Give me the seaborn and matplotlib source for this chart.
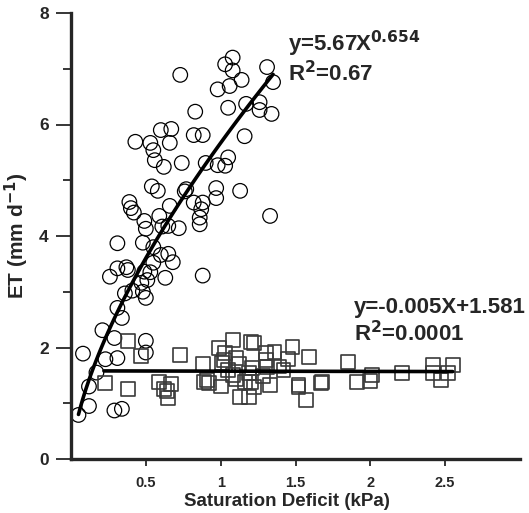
import matplotlib
matplotlib.use("Agg")
import matplotlib.pyplot as plt
import numpy as np
import pandas as pd
import seaborn as sns

# ET vs saturation deficit, two groups (circles rise with VPD, squares stay flat)
circle_vpd = [
    0.73, 1.03, 1.08, 1.08, 1.14, 1.06, 0.98, 1.31, 1.35, 0.83, 1.05, 1.17, 1.26, 1.26, 1.34,
    0.60, 0.67, 0.66, 0.43, 0.53, 0.55, 0.56, 0.62, 0.74, 0.82, 0.88, 1.16, 1.05, 1.03, 0.98,
    0.90, 0.54, 0.58, 0.77, 0.76, 0.97, 0.97, 1.13, 0.39, 0.40, 0.42, 0.66, 0.82, 0.88, 0.87,
    0.86, 0.86, 0.59, 0.49, 0.50, 0.61, 0.65, 0.72, 1.33, 0.31, 0.48, 0.55, 0.60, 0.65, 0.68,
    0.55, 0.53, 0.63, 0.37, 0.31, 0.26, 0.49, 0.51, 0.88, 0.38, 0.47, 0.41, 0.48, 0.36, 0.50,
    0.31, 0.34, 0.21, 0.29, 0.50, 0.08, 0.23, 0.31, 0.50, 0.17, 0.12, 0.12, 0.05, 0.29, 0.34,
]
circle_et = [
    6.89, 7.08, 7.20, 6.97, 6.80, 6.69, 6.63, 7.03, 6.76, 6.23, 6.30, 6.37, 6.40, 6.26, 6.19,
    5.90, 5.92, 5.67, 5.69, 5.67, 5.54, 5.36, 5.24, 5.31, 5.81, 5.81, 5.79, 5.41, 5.26, 5.27,
    5.31, 4.89, 4.81, 4.84, 4.80, 4.86, 4.68, 4.81, 4.61, 4.50, 4.42, 4.54, 4.60, 4.60, 4.48,
    4.33, 4.21, 4.36, 4.27, 4.13, 4.17, 4.18, 4.14, 4.36, 3.87, 3.88, 3.80, 3.66, 3.68, 3.53,
    3.52, 3.35, 3.25, 3.44, 3.42, 3.27, 3.36, 3.21, 3.29, 3.39, 3.16, 3.02, 3.00, 2.97, 2.89,
    2.71, 2.53, 2.31, 2.17, 2.12, 1.89, 1.79, 1.81, 1.91, 1.55, 1.30, 0.95, 0.79, 0.87, 0.90,
]

square_vpd = [
    0.38, 0.47, 0.73, 0.23, 0.38, 0.59, 0.67, 0.62, 0.64, 0.65, 0.88, 0.89, 0.92, 1.00, 0.99,
    1.03, 1.08, 1.02, 1.01, 1.10, 1.08, 1.16, 1.13, 1.19, 1.20, 1.22, 1.22, 1.19, 1.21, 1.30,
    1.36, 1.48, 1.45, 1.59, 1.30, 1.31, 1.39, 1.10, 1.20, 1.28, 1.33, 1.52, 1.52, 1.57, 1.68,
    1.67, 1.85, 1.91, 2.01, 2.00, 2.21, 2.42, 2.55, 2.42, 2.52, 2.47, 1.42, 0.91, 1.05, 1.12,
]
square_et = [
    2.12, 1.85, 1.86, 1.36, 1.26, 1.38, 1.35, 1.25, 1.22, 1.09, 1.70, 1.38, 1.37, 1.30, 1.99,
    1.90, 2.13, 1.77, 1.72, 1.81, 1.51, 1.38, 1.11, 1.12, 2.10, 2.08, 1.29, 1.54, 1.63, 1.90,
    1.92, 2.01, 1.80, 1.83, 1.78, 1.65, 1.66, 1.43, 1.38, 1.49, 1.33, 1.33, 1.29, 1.06, 1.38,
    1.37, 1.74, 1.38, 1.50, 1.40, 1.55, 1.68, 1.68, 1.54, 1.54, 1.42, 1.60, 1.41, 1.60, 1.70,
]

# fitted relations printed on the chart
power_a, power_b = 5.67, 0.654
lin_slope, lin_icept = -0.005, 1.581

x_ticks = [0.5, 1, 1.5, 2, 2.5]
x_tick_labels = ["0.5", "1", "1.5", "2", "2.5"]
y_ticks = [0, 2, 4, 6, 8]

sns.set_theme(style="ticks")
plt.rcParams["font.family"] = ["Liberation Sans", "DejaVu Sans"]
plt.rcParams["font.weight"] = "bold"
plt.rcParams["mathtext.default"] = "regular"

circles = pd.DataFrame({"vpd": circle_vpd, "et": circle_et})
squares = pd.DataFrame({"vpd": square_vpd, "et": square_et})

fig = plt.figure(figsize=(5.29, 5.13), dpi=100)
ax = fig.add_axes([71 / 529, 54 / 513, 449 / 529, 446 / 513])

sns.scatterplot(data=circles, x="vpd", y="et", marker="o", s=110,
                facecolor="none", edgecolor="black", linewidth=0.9, ax=ax)
sns.scatterplot(data=squares, x="vpd", y="et", marker="s", s=100,
                facecolor="none", edgecolor="#3a3a3a", linewidth=1.2, ax=ax)

xp = np.linspace(min(circle_vpd), max(circle_vpd), 100)
sns.lineplot(x=xp, y=power_a * xp ** power_b, color="black", linewidth=2.6, ax=ax)
xl = np.array([0.22, max(square_vpd)])
sns.lineplot(x=xl, y=lin_slope * xl + lin_icept, color="black", linewidth=2.6, ax=ax)

ann = dict(fontsize=16, fontweight="bold", va="baseline")
ax.text(1.451, 7.32, r"y=5.67X$^{\mathbf{0.654}}$", **ann)
ax.text(1.451, 6.78, r"R$^{\mathbf{2}}$=0.67", **ann)
ax.text(1.893, 2.62, "y=-0.005X+1.581", **ann)
ax.text(1.893, 2.12, r"R$^{\mathbf{2}}$=0.0001", **ann)

ax.set_xlim(0, 3)
ax.set_ylim(0, 8)
ax.set_xticks(x_ticks)
ax.set_xticklabels(x_tick_labels, fontsize=10.5, fontweight="bold")
ax.set_yticks(y_ticks)
ax.set_yticklabels([str(t) for t in y_ticks], fontsize=12.5, fontweight="bold")
ax.set_yticks([1, 3, 5, 7], minor=True)
ax.tick_params(axis="y", which="major", length=11, width=1.3, direction="out", pad=5)
ax.tick_params(axis="y", which="minor", length=6, width=1.3, direction="out")
ax.tick_params(axis="x", which="major", length=5, width=1.3, direction="out", pad=7)

ax.set_xlabel("Saturation Deficit (kPa)", fontsize=13.5, fontweight="bold")
ax.set_ylabel(r"ET (mm d$^{\mathbf{-1}}$)", fontsize=15, fontweight="bold")
ax.xaxis.set_label_coords((287 - 71) / 449, -34 / 446)
ax.yaxis.set_label_coords(-40 / 449, 0.5)

sns.despine(ax=ax)
for side in ["left", "bottom"]:
    ax.spines[side].set_linewidth(2.4)

fig.savefig("out.png", dpi=100)
